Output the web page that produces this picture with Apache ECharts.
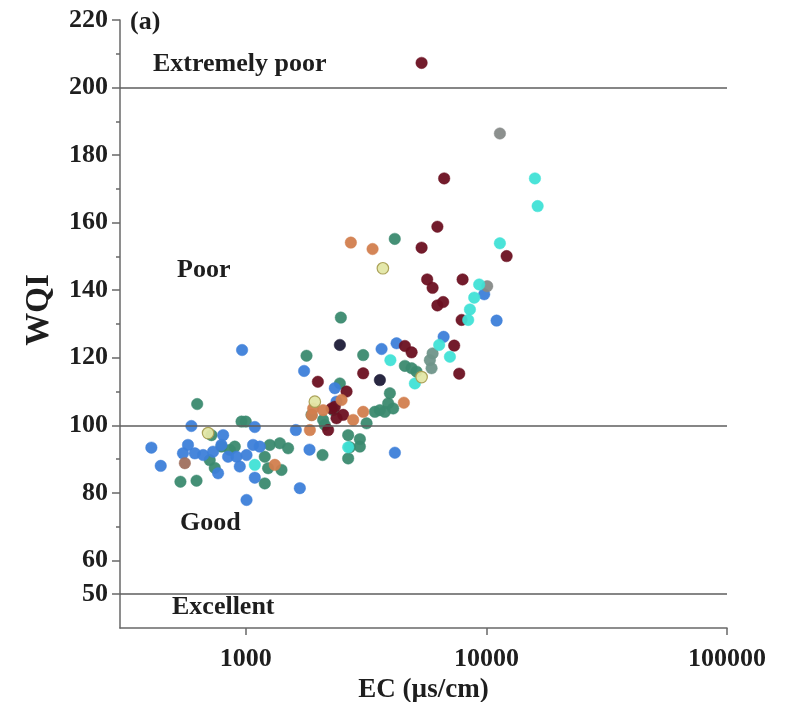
<!DOCTYPE html>
<html><head><meta charset="utf-8">
<script src="https://cdn.jsdelivr.net/npm/echarts@6/dist/echarts.min.js"></script>
<style>html,body{margin:0;padding:0;background:#fff}#c{width:802px;height:702px}</style>
</head><body><div id="c"></div>
<script>
// EC (µs/cm), WQI pairs per colour group
const tealPts = [[628,106.3],[535,83.3],[624,83.6],[720,97.1],[708,89.7],[792,93.7],[743,87.4],[900,93.7],[858,92.7],[960,101.1],[1000,101.1],[1199,90.7],[1258,94.2],[1385,94.7],[1499,93.2],[1238,87.3],[1407,86.8],[1199,82.8],[1788,120.6],[2483,131.9],[2460,112.4],[3075,120.8],[4160,155.2],[1876,103.1],[2096,101.6],[2130,100.1],[2307,104.5],[2664,97.1],[2979,95.9],[2707,93.5],[2979,93.7],[2664,90.2],[2084,91.2],[3177,100.6],[3439,104.0],[3608,104.5],[3784,104.0],[3906,106.5],[4098,105.0],[3970,109.5],[4582,117.6],[4887,116.9],[5126,115.9]];
const bluePts = [[405,93.4],[443,88.0],[594,99.8],[575,94.2],[548,91.7],[614,91.7],[665,91.2],[731,92.2],[805,97.1],[792,94.2],[844,90.7],[915,90.7],[944,87.8],[767,85.8],[965,122.3],[1007,77.9],[1090,99.5],[1072,94.2],[1143,93.7],[1090,84.5],[1007,91.2],[1614,98.6],[1840,92.8],[1677,81.4],[1747,116.1],[2344,111.0],[2382,107.0],[3667,122.6],[4233,124.3],[4165,91.9],[6640,126.2],[9792,138.8],[11025,131.0]];
const grayTealPts = [[5975,121.3],[5821,119.3],[5917,116.9]];
const grayPts = [[11378,186.4],[10077,141.2]];
const maroonPts = [[5378,207.3],[6675,173.1],[6256,158.8],[5378,152.6],[5674,143.2],[5975,140.7],[7962,143.2],[6256,135.5],[6612,136.5],[7887,131.2],[12134,150.1],[4582,123.5],[4887,121.6],[7347,123.6],[7709,115.3],[3075,115.4],[1993,112.9],[2623,110.0],[2272,105.0],[2538,103.1],[2382,102.1],[2199,98.6],[2344,105.5]];
const navyPts = [[2460,123.8],[3608,113.4]];
const cyanPts = [[15910,173.1],[16330,164.9],[11378,153.9],[9333,141.7],[8900,137.8],[8540,134.3],[8403,131.2],[6364,123.8],[7053,120.3],[5043,112.4],[3990,119.3],[1090,88.3],[2664,93.5]];
const orangePts = [[2733,154.1],[3364,152.2],[1846,98.6],[1905,105.0],[2096,104.5],[2500,107.5],[2794,101.6],[3075,104.0],[4539,106.7],[1320,88.3],[1880,103.0]];
const brownPts = [[558,88.8]];
const yellowPts = [[3713,146.5],[5378,114.3],[1936,107.0],[697,97.7]];

const xTicks = [1000, 10000, 100000];
const yMajor = [50, 60, 80, 100, 120, 140, 160, 180, 200, 220];
const yMinor = [70, 90, 110, 130, 150, 170, 190, 210];
const classLines = [200, 100, 50];
const classLabels = ['Extremely poor', 'Poor', 'Good', 'Excellent'];

const FONT = '"Liberation Serif", "Times New Roman", serif';
const axisCol = '#686868';

function sc(name, data, color, border) {
  return {
    type: 'scatter', name, data, symbolSize: 11.5, xAxisIndex: 0, yAxisIndex: 0,
    itemStyle: { color, opacity: 0.95, borderColor: border || color, borderWidth: border ? 1.2 : 0.5 },
    silent: true
  };
}

const chart = echarts.init(document.getElementById('c'));
const lbl = (t, x, y) => ({ type: 'text', x, y, style: { text: t, font: 'bold 26px ' + FONT, fill: '#1e1e1e', align: 'left', verticalAlign: 'middle' } });

chart.setOption({
  animation: false,
  backgroundColor: '#fff',
  grid: { left: 120, width: 607, top: 20, height: 608, outerBoundsMode: 'none', containLabel: false },
  xAxis: {
    type: 'log', logBase: 10, min: 300, max: 100000,
    name: 'EC (µs/cm)', nameLocation: 'middle', nameGap: 46,
    nameTextStyle: { fontFamily: FONT, fontWeight: 'bold', fontSize: 27, color: '#1e1e1e' },
    axisLine: { show: true, lineStyle: { color: axisCol, width: 1.5 } },
    axisTick: { show: true, customValues: xTicks, length: 7, lineStyle: { color: axisCol, width: 1.5 } },
    axisLabel: { customValues: xTicks, margin: 18, fontFamily: FONT, fontWeight: 'bold', fontSize: 26, color: '#1e1e1e',
      formatter: v => String(Math.round(v)) },
    splitLine: { show: false }, minorTick: { show: false }
  },
  yAxis: [{
    type: 'value', min: 40, max: 220, interval: 10,
    name: 'WQI', nameLocation: 'middle', nameGap: 64, nameRotate: 90,
    nameTextStyle: { fontFamily: FONT, fontWeight: 'bold', fontSize: 33, color: '#1e1e1e', padding: [0, 0, 0, 28] },
    axisLine: { show: true, lineStyle: { color: axisCol, width: 1.5 } },
    axisTick: { show: true, customValues: yMajor, length: 8, lineStyle: { color: axisCol, width: 1.5 } },
    axisLabel: { customValues: yMajor, margin: 12, fontFamily: FONT, fontWeight: 'bold', fontSize: 26, color: '#1e1e1e' },
    splitLine: { show: false }
  }, {
    type: 'value', min: 40, max: 220, interval: 10, position: 'left',
    axisLine: { show: false },
    axisTick: { show: true, customValues: yMinor, length: 4, lineStyle: { color: axisCol, width: 1.5 } },
    axisLabel: { show: false }, splitLine: { show: false }
  }],
  graphic: [
    lbl('(a)', 130, 22),
    lbl(classLabels[0], 153, 64),
    lbl(classLabels[1], 177, 270),
    lbl(classLabels[2], 180, 523),
    lbl(classLabels[3], 172, 607)
  ],
  series: [
    {
      type: 'scatter', data: [], silent: true,
      markLine: {
        silent: true, symbol: 'none', label: { show: false },
        lineStyle: { color: '#5e5e5e', width: 1.6, type: 'solid' },
        data: classLines.map(v => ({ yAxis: v }))
      }
    },
    sc('teal', tealPts, '#3b8a6f'),
    sc('blue', bluePts, '#3d7fd9'),
    sc('grayteal', grayTealPts, '#6f958a'),
    sc('gray', grayPts, '#868a88'),
    sc('maroon', maroonPts, '#6b1021'),
    sc('navy', navyPts, '#1e1c38'),
    sc('cyan', cyanPts, '#40e2d6'),
    sc('orange', orangePts, '#d27e4e'),
    sc('brown', brownPts, '#a0705e'),
    sc('yellow', yellowPts, '#e3e7a6', '#a89e52')
  ]
});
</script></body></html>
